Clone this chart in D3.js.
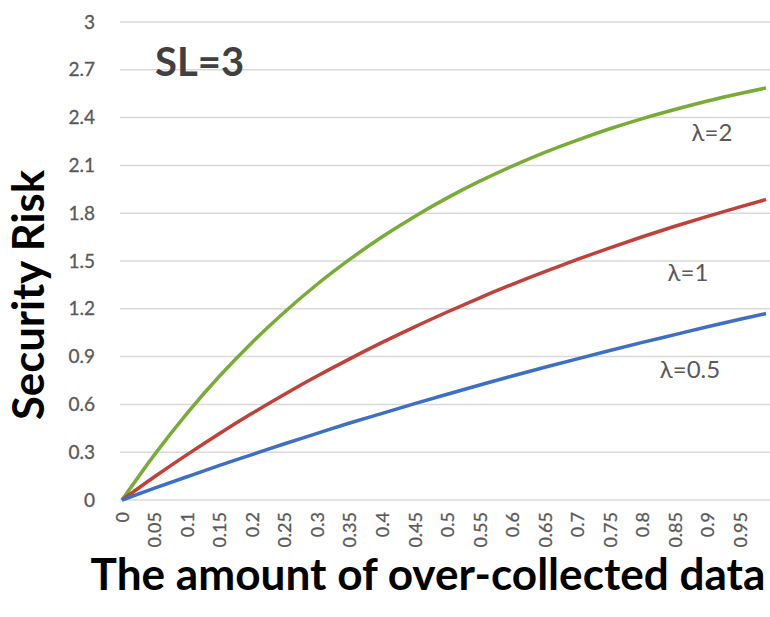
<!DOCTYPE html>
<html><head><meta charset="utf-8">
<script src="https://cdn.jsdelivr.net/npm/d3@7"></script>
<style>body{margin:0;background:#fff}svg{display:block;font-family:Lato,'Open Sans',sans-serif}</style>
</head><body><svg id="c" width="770" height="617"></svg>
<script>
const xValues = [0,0.05,0.1,0.15,0.2,0.25,0.3,0.35,0.4,0.45,0.5,0.55,0.6,0.65,0.7,0.75,0.8,0.85,0.9,0.95,0.99];
const lambda2 = [0,0.285,0.544,0.778,0.989,1.180,1.354,1.510,1.652,1.780,1.896,2.001,2.096,2.182,2.259,2.330,2.394,2.451,2.504,2.551,2.586];
const lambda1 = [0,0.146,0.285,0.418,0.544,0.664,0.778,0.886,0.989,1.087,1.180,1.269,1.354,1.434,1.510,1.583,1.652,1.718,1.780,1.840,1.886];
const lambda05 = [0,0.074,0.146,0.217,0.285,0.353,0.418,0.483,0.544,0.605,0.664,0.722,0.778,0.833,0.886,0.938,0.989,1.038,1.087,1.134,1.170];
const yTicks = [0,0.3,0.6,0.9,1.2,1.5,1.8,2.1,2.4,2.7,3];
const xTickLabels = ["0","0.05","0.1","0.15","0.2","0.25","0.3","0.35","0.4","0.45","0.5","0.55","0.6","0.65","0.7","0.75","0.8","0.85","0.9","0.95"];
const seriesNames = ["λ=2","λ=1","λ=0.5"];
const seriesColors = ["#78ac36","#c0403a","#3d6fc4"];

const svg = d3.select("#c");
const x = d3.scaleLinear().domain([0,0.95]).range([122,740]);
const y = d3.scaleLinear().domain([0,3]).range([500,22]);

svg.append("g").selectAll("line").data(yTicks).join("line")
  .attr("x1",120).attr("x2",770).attr("y1",d=>y(d)).attr("y2",d=>y(d))
  .attr("stroke","#d9d9d9").attr("stroke-width",1.5);

const yAxis = d3.axisLeft(y).tickValues(yTicks).tickFormat(d=>String(+d.toFixed(1))).tickSize(0).tickPadding(0);
const gy = svg.append("g").attr("transform","translate(95,0)").call(yAxis);
gy.select(".domain").remove();
gy.selectAll("text").attr("font-size",19).attr("fill","#595959").attr("font-family","Lato")
  .attr("stroke","#595959").attr("stroke-width",0.3);

const xAxis = d3.axisBottom(x).tickValues(xTickLabels.map(Number)).tickFormat((d,i)=>xTickLabels[i]).tickSize(0);
const gx = svg.append("g").attr("transform","translate(0,510)").call(xAxis);
gx.select(".domain").remove();
gx.selectAll("text").attr("font-size",18).attr("fill","#595959").attr("font-family","Lato")
  .attr("stroke","#595959").attr("stroke-width",0.3)
  .attr("transform","rotate(-90)").attr("text-anchor","end").attr("dy","0.35em").attr("x",-2).attr("y",0);

const seriesData = [lambda2, lambda1, lambda05];
const line = d3.line().x((d,i)=>x(xValues[i])).y(d=>y(d)).curve(d3.curveMonotoneX);
svg.append("g").selectAll("path").data(seriesData).join("path")
  .attr("d",line).attr("fill","none").attr("stroke",(d,i)=>seriesColors[i]).attr("stroke-width",3.5)
  .attr("stroke-linejoin","round");

const labelPos = [[712,141],[688,281],[690,378]];
svg.append("g").selectAll("text").data(seriesNames).join("text")
  .attr("x",(d,i)=>labelPos[i][0]).attr("y",(d,i)=>labelPos[i][1])
  .attr("text-anchor","middle").attr("font-size",24).attr("fill","#595959").text(d=>d);

svg.append("text").attr("x",155).attr("y",76).attr("font-size",40).attr("font-weight","bold")
  .attr("fill","#404040").text("SL=3");

const yt = svg.append("text").attr("transform","translate(44,295) rotate(-90)")
  .attr("text-anchor","middle").attr("font-size",27).attr("font-weight","bold").attr("fill","#000").text("Security Risk");
const xt = svg.append("text").attr("x",428).attr("y",590)
  .attr("text-anchor","middle").attr("font-size",30).attr("font-weight","bold").attr("fill","#000").text("The amount of over-collected data");
function fit(t,w){const l=t.node().getComputedTextLength();const fs=+t.attr("font-size");t.attr("font-size",fs*w/l);}
fit(xt,675); fit(yt,250);
</script></body></html>
